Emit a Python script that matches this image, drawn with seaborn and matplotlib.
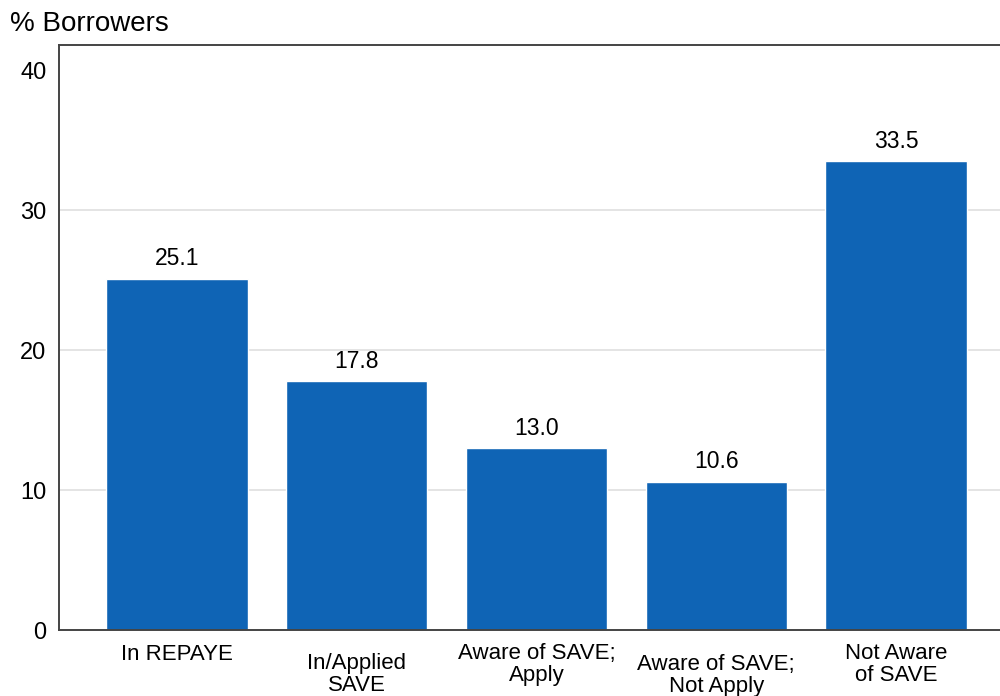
import numpy as np
import pandas as pd
import seaborn as sns
import matplotlib.pyplot as plt
import matplotlib.transforms as mtransforms

categories = ["In REPAYE", "In/Applied\nSAVE", "Aware of SAVE;\nApply",
              "Aware of SAVE;\nNot Apply", "Not Aware\nof SAVE"]
share = [25.1, 17.8, 13.0, 10.6, 33.5]
yticks = [0, 10, 20, 30, 40]

# how far each category label sits below the axis (points), staggered like the original
label_drop = [17.5, 32, 25, 32.5, 25]

df = pd.DataFrame({"group": categories, "share": share})

sns.set_style("white")
plt.rcParams['font.family'] = ['Liberation Sans', 'DejaVu Sans']
plt.rcParams['text.color'] = 'black'
plt.rcParams['ytick.labelcolor'] = 'black'

fig = plt.figure(figsize=(10, 6.96), dpi=100)
ax = fig.add_axes([0.059, 0.0948, 0.955, 0.8405])

bar_color = "#0F64B5"
sns.barplot(data=df, x="group", y="share", color=bar_color, saturation=1,
            width=0.785, ax=ax)

ax.set_xlim(-0.656, 4.656)
ax.set_ylim(0, 41.8)
ax.set_yticks(yticks)
ax.set_yticklabels([str(t) for t in yticks], fontsize=17)
ax.set_xticks(range(len(categories)))
ax.set_xticklabels([])
ax.tick_params(axis="x", length=0)
ax.tick_params(axis="y", length=6, width=1.1, color="#444444", pad=3)
ax.set_xlabel("")
ax.set_ylabel("")

# light horizontal grid, not on the top value
for t in yticks[1:-1]:
    ax.axhline(t, color="#dcdcdc", lw=1.1, zorder=0)
ax.set_axisbelow(True)

for side in ["left", "bottom", "top", "right"]:
    ax.spines[side].set_color("#444444")
    ax.spines[side].set_linewidth(1.4)

# value labels on top of bars
for i, v in enumerate(share):
    ax.annotate(f"{v:.1f}", (i, v), xytext=(0, 6), textcoords="offset points",
                ha="center", va="bottom", fontsize=16.5)

# staggered category labels
base = mtransforms.blended_transform_factory(ax.transData, ax.transAxes)
for i, lab in enumerate(categories):
    tr = base + mtransforms.ScaledTranslation(0, -label_drop[i] / 72, fig.dpi_scale_trans)
    ax.text(i, 0, lab, transform=tr, ha="center", va="center",
            fontsize=16, linespacing=1.05)

fig.text(0.01, 0.984, "% Borrowers", ha="left", va="top", fontsize=20)

fig.savefig("out.png", dpi=100)
